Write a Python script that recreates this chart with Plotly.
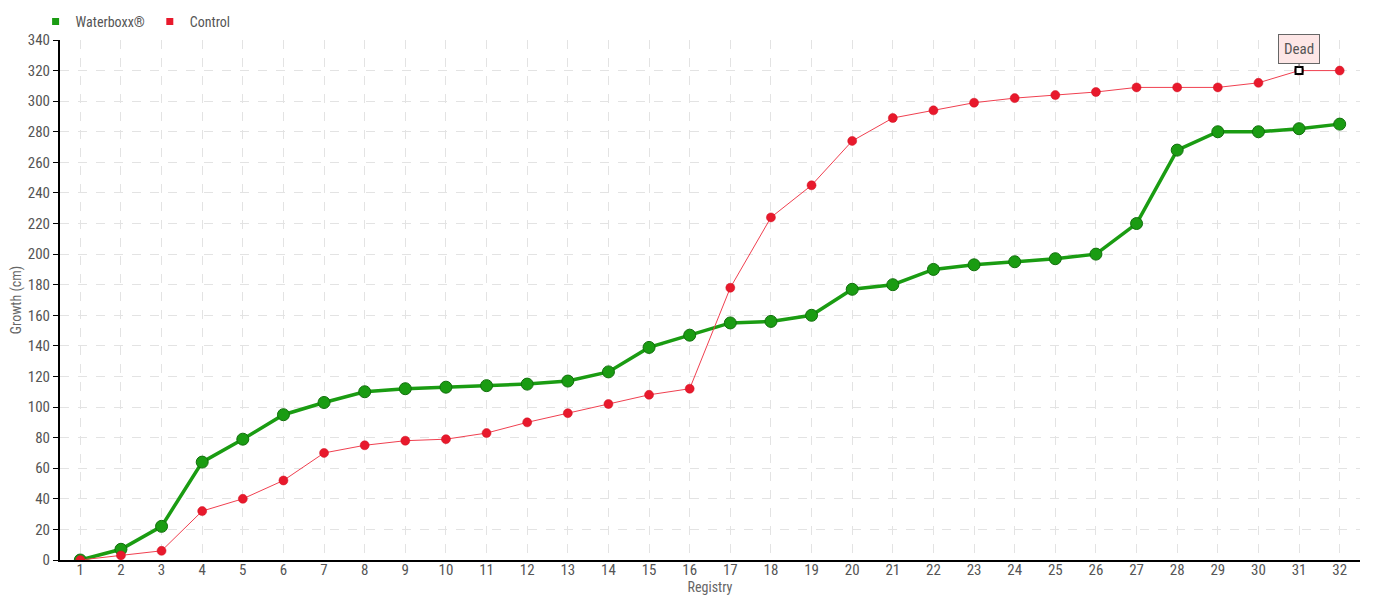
import plotly.graph_objects as go

registry = list(range(1, 33))
waterboxx = [0, 7, 22, 64, 79, 95, 103, 110, 112, 113, 114, 115, 117, 123, 139, 147,
             155, 156, 160, 177, 180, 190, 193, 195, 197, 200, 220, 268, 280, 280, 282, 285]
control = [0, 3, 6, 32, 40, 52, 70, 75, 78, 79, 83, 90, 96, 102, 108, 112,
           178, 224, 245, 274, 289, 294, 299, 302, 304, 306, 309, 309, 309, 312, 320, 320]
dead_index = 31
dead_label = "Dead"
y_ticks = list(range(0, 341, 20))

FONT = "Roboto Condensed, Liberation Sans Narrow, Roboto, sans-serif"
GREEN = "#1a9c12"
RED = "#e8192c"

fig = go.Figure()
fig.add_trace(go.Scatter(
    x=registry, y=waterboxx, mode="lines+markers", showlegend=False,
    line=dict(color=GREEN, width=3.5),
    marker=dict(size=12, color=GREEN, line=dict(color="#11700c", width=1)),
))
fig.add_trace(go.Scatter(
    x=registry, y=control, mode="lines+markers", showlegend=False,
    line=dict(color="#f04050", width=1),
    marker=dict(size=9, color=RED, line=dict(color="#d01020", width=0.5)),
))
fig.add_trace(go.Scatter(
    x=[dead_index], y=[control[dead_index - 1]], mode="markers", showlegend=False,
    marker=dict(symbol="square", size=7, color="white", line=dict(color="black", width=2)),
))
# legend entries
fig.add_trace(go.Scatter(x=[None], y=[None], mode="markers", name="Waterboxx®",
                         marker=dict(symbol="square", size=7, color=GREEN)))
fig.add_trace(go.Scatter(x=[None], y=[None], mode="markers", name="Control",
                         marker=dict(symbol="square", size=7, color=RED)))

fig.add_annotation(
    x=dead_index, y=control[dead_index - 1], text=dead_label,
    showarrow=True, arrowhead=0, arrowwidth=1, arrowcolor="#666",
    ax=0, ay=-22, standoff=4,
    bgcolor="#fde6e6", bordercolor="#666", borderwidth=1, borderpad=5,
    font=dict(family=FONT, size=15, color="#555"),
)

grid = dict(showgrid=True, gridcolor="#e3e3e3", griddash="dash", gridwidth=1)
fig.update_xaxes(
    range=[0.5, 32.5], tickmode="array", tickvals=registry, ticktext=[str(r) for r in registry],
    showline=True, linecolor="black", linewidth=2, ticks="", zeroline=False,
    ticklabelstandoff=-5,
    title=dict(text="Registry", standoff=0, font=dict(family=FONT, size=14, color="#666")),
    tickfont=dict(family=FONT, size=15, color="#555"), **grid,
)
fig.update_yaxes(
    range=[0, 340], tickmode="array", tickvals=y_ticks,
    showline=True, linecolor="black", linewidth=2, ticks="outside", ticklen=5,
    tickcolor="black", zeroline=False,
    title=dict(text="Growth (cm)", standoff=8, font=dict(family=FONT, size=14, color="#666")),
    tickfont=dict(family=FONT, size=15, color="#555"), **grid,
)
fig.update_layout(
    width=1380, height=600, plot_bgcolor="white", paper_bgcolor="white",
    margin=dict(l=52, r=28, t=32, b=48, autoexpand=False),
    font=dict(family=FONT, color="#555"),
    legend=dict(orientation="h", xref="container", yref="container", x=0.02, y=0.977,
                xanchor="left", yanchor="middle", font=dict(family=FONT, size=14, color="#555"),
                bgcolor="rgba(0,0,0,0)", itemwidth=30, tracegroupgap=0),
)
fig.write_html("out.html")
